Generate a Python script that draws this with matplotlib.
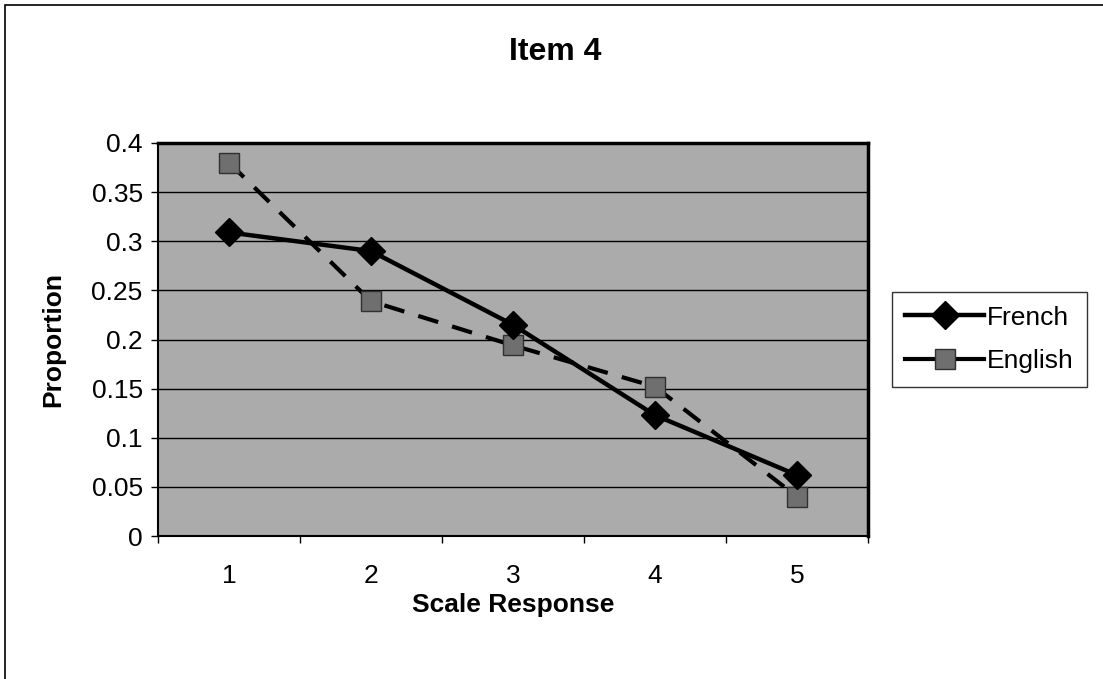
import matplotlib
matplotlib.use("Agg")
import matplotlib.pyplot as plt
from matplotlib.patches import Rectangle

# values
scale = [1, 2, 3, 4, 5]
french = [0.309, 0.290, 0.215, 0.123, 0.062]
english = [0.380, 0.239, 0.194, 0.152, 0.040]
yticks = [0, 0.05, 0.1, 0.15, 0.2, 0.25, 0.3, 0.35, 0.4]
ytick_labels = ['0', '0.05', '0.1', '0.15', '0.2', '0.25', '0.3', '0.35', '0.4']

plt.rcParams['font.family'] = ['Liberation Sans', 'DejaVu Sans']

fig = plt.figure(figsize=(11.03, 6.79), dpi=100)
ax = fig.add_axes([0.1432, 0.2106, 0.6437, 0.5788])
ax.set_facecolor('#ababab')

# outer chart border (only left/top visible in the original)
fig.patches.append(Rectangle((5 / 1103, -0.05), 1.2, 1 - 5 / 679 + 0.05,
                             transform=fig.transFigure, fill=False,
                             edgecolor='black', linewidth=1.2))

ax.plot(scale, french, '-', color='black', linewidth=3.2, marker='D',
        markersize=14, markerfacecolor='black', markeredgecolor='black',
        label='French', zorder=4)
ax.plot(scale, english, color='black', linewidth=3.0, dashes=(5, 3.5),
        marker='s', markersize=15, markerfacecolor='#6f6f6f',
        markeredgecolor='#303030', markeredgewidth=1.0,
        label='English', zorder=3)

ax.set_xlim(0.5, 5.5)
ax.set_ylim(0, 0.4)
ax.set_yticks(yticks)
ax.set_yticklabels(ytick_labels)
ax.set_xticks(scale)
ax.tick_params(axis='x', length=0, labelsize=19, pad=20)
ax.tick_params(axis='y', length=5, width=1, labelsize=19, pad=6)
# category boundary ticks like Excel
ax.set_xticks([0.5, 1.5, 2.5, 3.5, 4.5, 5.5], minor=True)
ax.tick_params(axis='x', which='minor', length=5, width=1)

ax.grid(axis='y', color='black', linewidth=1.0)
ax.set_axisbelow(True)
for side in ['left', 'bottom']:
    ax.spines[side].set_linewidth(1.5)
for side in ['top', 'right']:
    ax.spines[side].set_linewidth(2.5)

ax.set_xlabel('Scale Response', fontsize=19, fontweight='bold', labelpad=4)
ax.set_ylabel('Proportion', fontsize=19, fontweight='bold', labelpad=19)
fig.text(0.503, 0.924, 'Item 4', fontsize=23, fontweight='bold',
         ha='center', va='center')

leg = ax.legend(loc='center left', bbox_to_anchor=(1.034, 0.5), fontsize=19,
                frameon=True, fancybox=False, edgecolor='black',
                handlelength=3.0, handletextpad=0.1, borderpad=0.5,
                borderaxespad=0, labelspacing=0.75)
leg.get_frame().set_linewidth(1.0)
# legend handles drawn as solid lines, as in the original
for h in leg.get_lines():
    h.set_linestyle('-')

fig.savefig('out.png', dpi=100)
